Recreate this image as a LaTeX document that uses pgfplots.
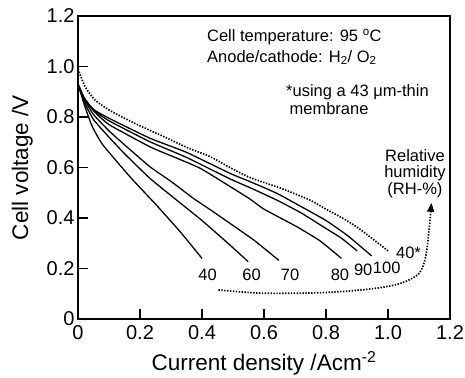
\documentclass[border=0pt]{standalone}
\usepackage{pgfplots}
\pgfplotsset{compat=1.18}
\usepackage{fontspec}
\setmainfont{Liberation Sans}
\usetikzlibrary{arrows.meta}
\pgfplotsset{sol/.style={black, no marks, line width=1.3pt, smooth, tension=0.3},
  dot/.style={black, no marks, smooth, tension=0.4, line width=1.7pt, dash pattern=on 1.4pt off 1.5pt}}
\begin{document}
\begin{tikzpicture}
\begin{axis}[
  scale only axis, width=372pt, height=303pt,
  xmin=0, xmax=1.2, ymin=0, ymax=1.2,
  axis line style={line width=1.6pt},
  tick pos=left, tick align=inside, major tick length=10pt,
  tick style={line width=1.6pt, black},
  xtick={0,0.2,0.4,0.6,0.8,1.0,1.2},
  xticklabels={0,0.2,0.4,0.6,0.8,1.0,1.2},
  ytick={0,0.2,0.4,0.6,0.8,1.0,1.2},
  yticklabels={0,0.2,0.4,0.6,0.8,1.0,1.2},
  ticklabel style={font=\fontsize{20}{20}\selectfont},
  xticklabel style={yshift=-3pt},
  label style={font=\fontsize{22.5}{22.5}\selectfont},
  xlabel style={yshift=-5pt},
  ylabel style={yshift=7pt},
  xlabel={Current density /Acm\textsuperscript{-2}},
  ylabel={Cell voltage /V},
  clip=false,
]
% 40
\addplot[sol] coordinates {(0,0.93)(0.02,0.85)(0.045,0.765)(0.08,0.69)(0.17,0.56)(0.25,0.455)(0.33,0.345)(0.40,0.24)};
% 60
\addplot[sol] coordinates {(0,0.93)(0.02,0.86)(0.05,0.79)(0.1,0.72)(0.15,0.655)(0.232,0.557)(0.318,0.471)(0.40,0.39)(0.49,0.293)(0.549,0.227)};
% 70
\addplot[sol] coordinates {(0,0.93)(0.02,0.87)(0.05,0.81)(0.1,0.745)(0.15,0.69)(0.232,0.603)(0.30,0.545)(0.372,0.478)(0.43,0.43)(0.49,0.379)(0.57,0.31)(0.648,0.232)};
% 80
\addplot[sol] coordinates {(0,0.93)(0.02,0.875)(0.05,0.825)(0.1,0.77)(0.232,0.682)(0.307,0.643)(0.394,0.597)(0.49,0.525)(0.555,0.475)(0.60,0.435)(0.705,0.366)(0.78,0.31)(0.85,0.24)};
% 90
\addplot[sol] coordinates {(0,0.93)(0.02,0.875)(0.05,0.828)(0.1,0.785)(0.232,0.702)(0.35,0.64)(0.49,0.555)(0.555,0.52)(0.641,0.471)(0.72,0.42)(0.79,0.366)(0.85,0.32)(0.90,0.27)};
% 100
\addplot[sol] coordinates {(0,0.93)(0.02,0.875)(0.05,0.83)(0.1,0.795)(0.232,0.716)(0.35,0.66)(0.49,0.577)(0.555,0.544)(0.641,0.498)(0.72,0.445)(0.80,0.39)(0.87,0.33)(0.947,0.25)};
% 40* (thin membrane)
\addplot[dot] coordinates {(0,0.99)(0.023,0.92)(0.055,0.867)(0.1,0.828)(0.15,0.795)(0.2,0.765)(0.281,0.72)(0.35,0.68)(0.426,0.643)(0.49,0.60)(0.555,0.56)(0.65,0.52)(0.695,0.498)(0.75,0.47)(0.80,0.435)(0.86,0.395)(0.91,0.355)(1.0,0.27)};
% RH arrow
\addplot[dot, tension=0.5, -{Triangle[length=9pt,width=7pt]}] coordinates {(0.453,0.115)(0.6,0.102)(0.8,0.105)(0.95,0.12)(1.04,0.141)(1.10,0.18)(1.122,0.25)(1.133,0.36)(1.14,0.46)};

\begin{scope}[every node/.style={font=\fontsize{16.5}{16.5}\selectfont, inner sep=0pt}]
\node[anchor=base] at (axis cs:0.418,0.153) {40};
\node[anchor=base] at (axis cs:0.560,0.153) {60};
\node[anchor=base] at (axis cs:0.684,0.154) {70};
\node[anchor=base] at (axis cs:0.845,0.154) {80};
\node[anchor=base] at (axis cs:0.920,0.174) {90};
\node[anchor=base] at (axis cs:0.996,0.181) {100};
\node[anchor=base] at (axis cs:1.066,0.238) {40*};
\node[anchor=base west] at (axis cs:0.416,1.098) {Cell temperature: 95 \textsuperscript{o}C};
\node[anchor=base west] at (axis cs:0.416,1.017) {Anode/cathode: H\textsubscript{2}/ O\textsubscript{2}};
\node[anchor=base west] at (axis cs:0.671,0.880) {*using a 43 μm-thin};
\node[anchor=base west] at (axis cs:0.682,0.808) {membrane};
\node[anchor=base] at (axis cs:1.087,0.623) {Relative};
\node[anchor=base] at (axis cs:1.087,0.560) {humidity};
\node[anchor=base] at (axis cs:1.087,0.494) {(RH-\%)};
\end{scope}
\end{axis}
\pgfresetboundingbox
\path (-78pt,-58pt) rectangle (387pt,319pt);
\end{tikzpicture}
\end{document}
